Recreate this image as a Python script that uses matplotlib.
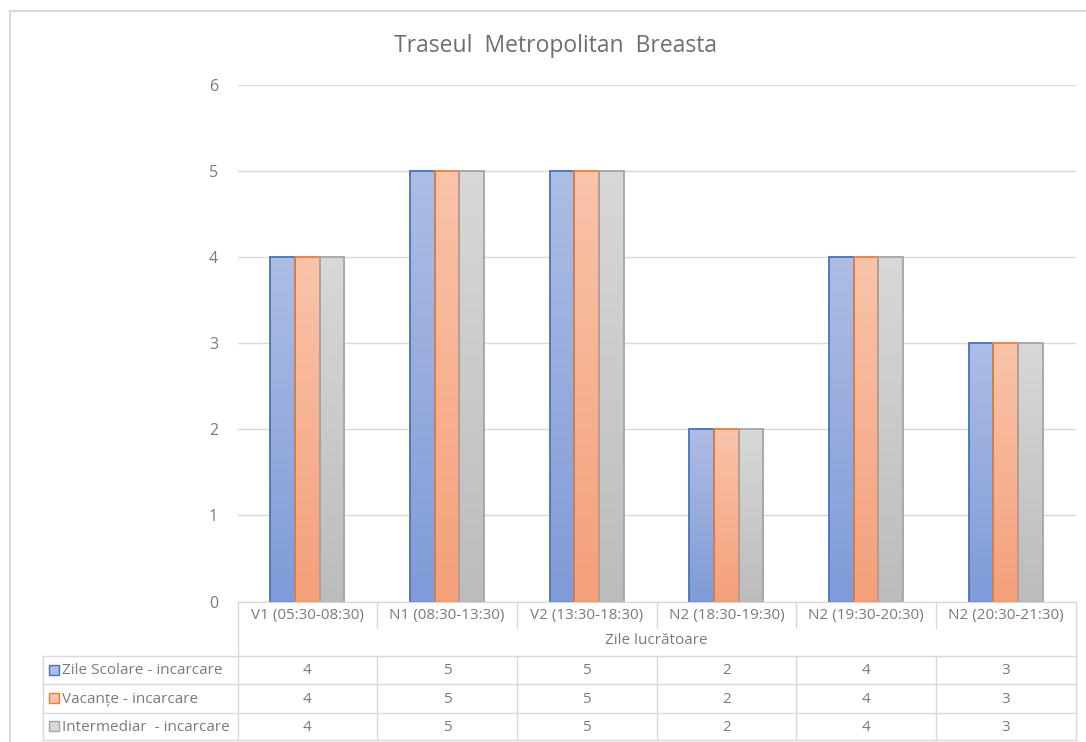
import matplotlib.pyplot as plt
import matplotlib.colors as mcolors
import numpy as np

plt.rcParams['font.family'] = ['Open Sans', 'DejaVu Sans']

# Dados do grafico
titlu = 'Traseul  Metropolitan  Breasta'
categorii = ['V1 (05:30-08:30)', 'N1 (08:30-13:30)', 'V2 (13:30-18:30)',
             'N2 (18:30-19:30)', 'N2 (19:30-20:30)', 'N2 (20:30-21:30)']
grup_axa = 'Zile lucrătoare'
serii = ['Zile Scolare - incarcare', 'Vacanțe - incarcare', 'Intermediar  - incarcare']
zile_scolare = [4, 5, 5, 2, 4, 3]
vacante = [4, 5, 5, 2, 4, 3]
intermediar = [4, 5, 5, 2, 4, 3]
valori = [zile_scolare, vacante, intermediar]

# stil: (margine, sus, jos)
culori = [('#4472c4', '#aebde3', '#7f9bd8'),
          ('#ed7d31', '#f9c4aa', '#f4a07a'),
          ('#a5a5a5', '#d8d8d8', '#bcbcbc')]

W, H = 1086, 742
fig = plt.figure(figsize=(W / 100, H / 100), dpi=100)

def fx(px):
    return px / W

def fy(py):
    return 1 - py / H

x0, x1 = 237.5, 1075.5
ytop6, ybase = 85, 601.5
ax = fig.add_axes([fx(x0), fy(ybase), fx(x1) - fx(x0), fy(ytop6) - fy(ybase)])
n = len(categorii)
ax.set_xlim(0, n)
ax.set_ylim(0, 6)
for s in ax.spines.values():
    s.set_visible(False)
tc = '#7a7a7a'
ax.set_yticks(range(7))
ax.set_yticklabels([str(i) for i in range(7)], fontsize=11.5, color=tc)
ax.tick_params(axis='y', length=0, pad=14)
ax.set_xticks([])
ax.grid(True, axis='y', color='#d9d9d9', linewidth=1)
ax.set_axisbelow(True)

lat = 0.176
for si, vals in enumerate(valori):
    muchie, sus, jos = culori[si]
    cmap = mcolors.LinearSegmentedColormap.from_list('g%d' % si, [jos, sus])
    grad = np.linspace(0, 1, 256).reshape(-1, 1)
    for ci, v in enumerate(vals):
        xs = ci + 0.5 + (si - 1) * lat - lat / 2
        bar = ax.bar(xs, v, width=lat, align='edge', color='none',
                     edgecolor=muchie, linewidth=1.3, zorder=3)[0]
        im = ax.imshow(grad, extent=[xs, xs + lat, 0, v], origin='lower',
                       cmap=cmap, aspect='auto', zorder=2)
        im.set_clip_path(bar)
ax.set_xlim(0, n)
ax.set_ylim(0, 6)

# Titlu
fig.text(fx(556), fy(46), titlu, ha='center', va='center', fontsize=16.5, color='#6e6e6e')

# Chenar exterior
lc = '#d9d9d9'
fig.add_artist(plt.Line2D([fx(10), fx(10)], [fy(11), fy(742)], color=lc, lw=1.5))
fig.add_artist(plt.Line2D([fx(10), fx(1086)], [fy(11), fy(11)], color=lc, lw=1.5))

# Tabel de date
col_w = (x1 - x0) / n
rows = [602, 628, 655.5, 684, 712.5, 740]
leg_x = 43

def hline(y, xa, xb):
    fig.add_artist(plt.Line2D([fx(xa), fx(xb)], [fy(y), fy(y)], color=lc, lw=1))

def vline(x, ya, yb):
    fig.add_artist(plt.Line2D([fx(x), fx(x)], [fy(ya), fy(yb)], color=lc, lw=1))

hline(rows[0], x0, x1)
for y in rows[2:]:
    hline(y, leg_x, x1)
vline(x0, rows[0], rows[-1])
vline(x1, rows[0], rows[-1])
vline(leg_x, rows[2], rows[-1])
for i in range(1, n):
    vline(x0 + i * col_w, rows[0], rows[1])
    vline(x0 + i * col_w, rows[2], rows[-1])

fs = 11
for i, c in enumerate(categorii):
    fig.text(fx(x0 + (i + 0.5) * col_w), fy((rows[0] + rows[1]) / 2 + 1), c,
             ha='center', va='center', fontsize=fs, color=tc)
fig.text(fx((x0 + x1) / 2), fy((rows[1] + rows[2]) / 2 - 1), grup_axa,
         ha='center', va='center', fontsize=fs, color=tc)

for si, vals in enumerate(valori):
    yc = (rows[2 + si] + rows[3 + si]) / 2
    muchie, sus, jos = culori[si]
    fig.add_artist(plt.Rectangle((fx(leg_x + 6), fy(yc + 5)), fx(10), 10 / H,
                                 facecolor=sus, edgecolor=muchie, lw=1))
    fig.text(fx(leg_x + 19), fy(yc + 1), serii[si], ha='left', va='center',
             fontsize=11, color=tc)
    for ci, v in enumerate(vals):
        fig.text(fx(x0 + (ci + 0.5) * col_w), fy(yc + 1), str(v),
                 ha='center', va='center', fontsize=fs, color=tc)

plt.savefig('out.png', dpi=100)
